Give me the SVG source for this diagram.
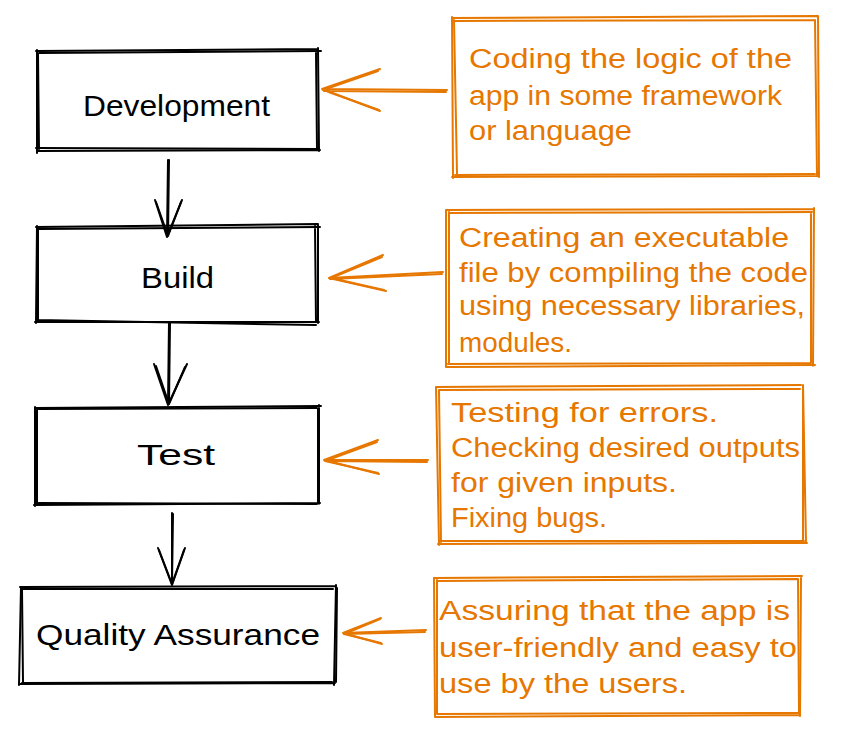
<svg xmlns="http://www.w3.org/2000/svg" width="843" height="735" viewBox="0 0 843 735">
<style>
.k{fill:none;stroke:#000;stroke-width:2;stroke-linecap:round;stroke-linejoin:round}
.o{fill:none;stroke:#e67700;stroke-width:2;stroke-linecap:round;stroke-linejoin:round}
.kt{font-family:"Liberation Sans",Arial,sans-serif;font-size:29px;fill:#000}
.ot{font-family:"Liberation Sans",Arial,sans-serif;font-size:27px;fill:#e67700}
</style>
<rect width="843" height="735" fill="#fff"/>
<g id="connectors">
<path class="k" d="M168 160 L167 237 M155 200 L167 237 L182 200"/>
<path class="k" d="M169 160 L168 236 M156 202 L168 236 L181 202"/>
<path class="k" d="M169 322 L168 405 M154 364 L168 405 L187 364"/>
<path class="k" d="M170 323 L169 404 M156 366 L169 404 L185 367"/>
<path class="k" d="M172 513 L172 585 M158 548 L172 585 L185 548"/>
<path class="k" d="M173 514 L172 584 M159 550 L172 584 L184 550"/>
<path class="o" d="M447 90 L322 89 M380 69 L322 89 L380 111"/>
<path class="o" d="M446 92 L324 91 M378 71 L323 90 L379 110"/>
<path class="o" d="M443 272 L329 278 M383 255 L329 278 L386 291"/>
<path class="o" d="M442 274 L330 279 M382 257 L331 278 L384 290"/>
<path class="o" d="M428 460 L324 460 M378 440 L324 460 L379 474"/>
<path class="o" d="M427 462 L326 461 M377 442 L325 461 L378 473"/>
<path class="o" d="M426 630 L343 633 M381 618 L343 633 L382 644"/>
<path class="o" d="M425 632 L344 634 M380 619 L344 634 L381 643"/>
</g>
<g id="development">
<path class="k" d="M36 51 L318 49 M318 48 L319 151 M320 150 L37 151 M37 153 L37 50"/>
<path class="k" d="M39 53 L321 51 M316 52 L317 149 M317 149 L36 148 M39 150 L38 54"/>
<text class="kt" x="83" y="116" textLength="187" lengthAdjust="spacingAndGlyphs">Development</text>
</g>
<g id="build">
<path class="k" d="M36 227 L318 224 M318 225 L318 323 M319 322 L35 322 M36 323 L37 226"/>
<path class="k" d="M38 229 L320 227 M315 226 L316 322 M316 325 L37 320 M38 322 L38 229"/>
<text class="kt" x="141" y="288" textLength="73" lengthAdjust="spacingAndGlyphs">Build</text>
</g>
<g id="test">
<path class="k" d="M35 408 L321 406 M319 405 L319 504 M320 503 L34 505 M35 506 L35 407"/>
<path class="k" d="M37 409 L317 408 M318 409 L318 503 M317 504 L36 503 M37 504 L37 410"/>
<text class="kt" x="137" y="465" textLength="78" lengthAdjust="spacingAndGlyphs">Test</text>
</g>
<g id="quality-assurance">
<path class="k" d="M20 587 L336 586 M336 585 L334 685 M335 683 L19 684 M19 685 L21 587"/>
<path class="k" d="M22 589 L333 589 M337 588 L336 682 M332 682 L22 683 M23 682 L22 590"/>
<text class="kt" x="36" y="645" textLength="284" lengthAdjust="spacingAndGlyphs">Quality Assurance</text>
</g>
<g id="note-development">
<path class="o" d="M452 18 L818 16 M818 16 L819 177 M818 176 L452 177 M453 178 L452 17"/>
<path class="o" d="M455 21 L815 20 M815 20 L817 175 M815 174 L455 175 M457 174 L454 20"/>
<text class="ot" x="469" y="68" textLength="323" lengthAdjust="spacingAndGlyphs">Coding the logic of the</text>
<text class="ot" x="469" y="105" textLength="313" lengthAdjust="spacingAndGlyphs">app in some framework</text>
<text class="ot" x="469" y="140" textLength="163" lengthAdjust="spacingAndGlyphs">or language</text>
</g>
<g id="note-build">
<path class="o" d="M446 210 L814 209 M814 208 L813 366 M815 365 L447 367 M446 367 L446 210"/>
<path class="o" d="M449 213 L812 212 M811 212 L811 363 M811 363 L448 364 M449 364 L449 212"/>
<text class="ot" x="459" y="247" textLength="330" lengthAdjust="spacingAndGlyphs">Creating an executable</text>
<text class="ot" x="459" y="282" textLength="349" lengthAdjust="spacingAndGlyphs">file by compiling the code</text>
<text class="ot" x="459" y="315" textLength="346" lengthAdjust="spacingAndGlyphs">using necessary libraries,</text>
<text class="ot" x="459" y="352" textLength="113" lengthAdjust="spacingAndGlyphs">modules.</text>
</g>
<g id="note-test">
<path class="o" d="M436 387 L801 385 M803 385 L806 543 M807 543 L438 544 M439 545 L436 387"/>
<path class="o" d="M439 390 L800 389 M803 389 L803 540 M804 541 L439 541 M441 542 L439 390"/>
<text class="ot" x="451" y="422" textLength="267" lengthAdjust="spacingAndGlyphs">Testing for errors.</text>
<text class="ot" x="451" y="457" textLength="349" lengthAdjust="spacingAndGlyphs">Checking desired outputs</text>
<text class="ot" x="451" y="492" textLength="226" lengthAdjust="spacingAndGlyphs">for given inputs.</text>
<text class="ot" x="451" y="527" textLength="156" lengthAdjust="spacingAndGlyphs">Fixing bugs.</text>
</g>
<g id="note-qa">
<path class="o" d="M434 578 L802 576 M801 577 L800 716 M800 715 L436 717 M435 717 L434 578"/>
<path class="o" d="M437 581 L798 579 M798 579 L799 713 M798 713 L437 714 M437 714 L437 580"/>
<text class="ot" x="439" y="620" textLength="351" lengthAdjust="spacingAndGlyphs">Assuring that the app is</text>
<text class="ot" x="439" y="657" textLength="358" lengthAdjust="spacingAndGlyphs">user-friendly and easy to</text>
<text class="ot" x="439" y="693" textLength="248" lengthAdjust="spacingAndGlyphs">use by the users.</text>
</g>
</svg>
